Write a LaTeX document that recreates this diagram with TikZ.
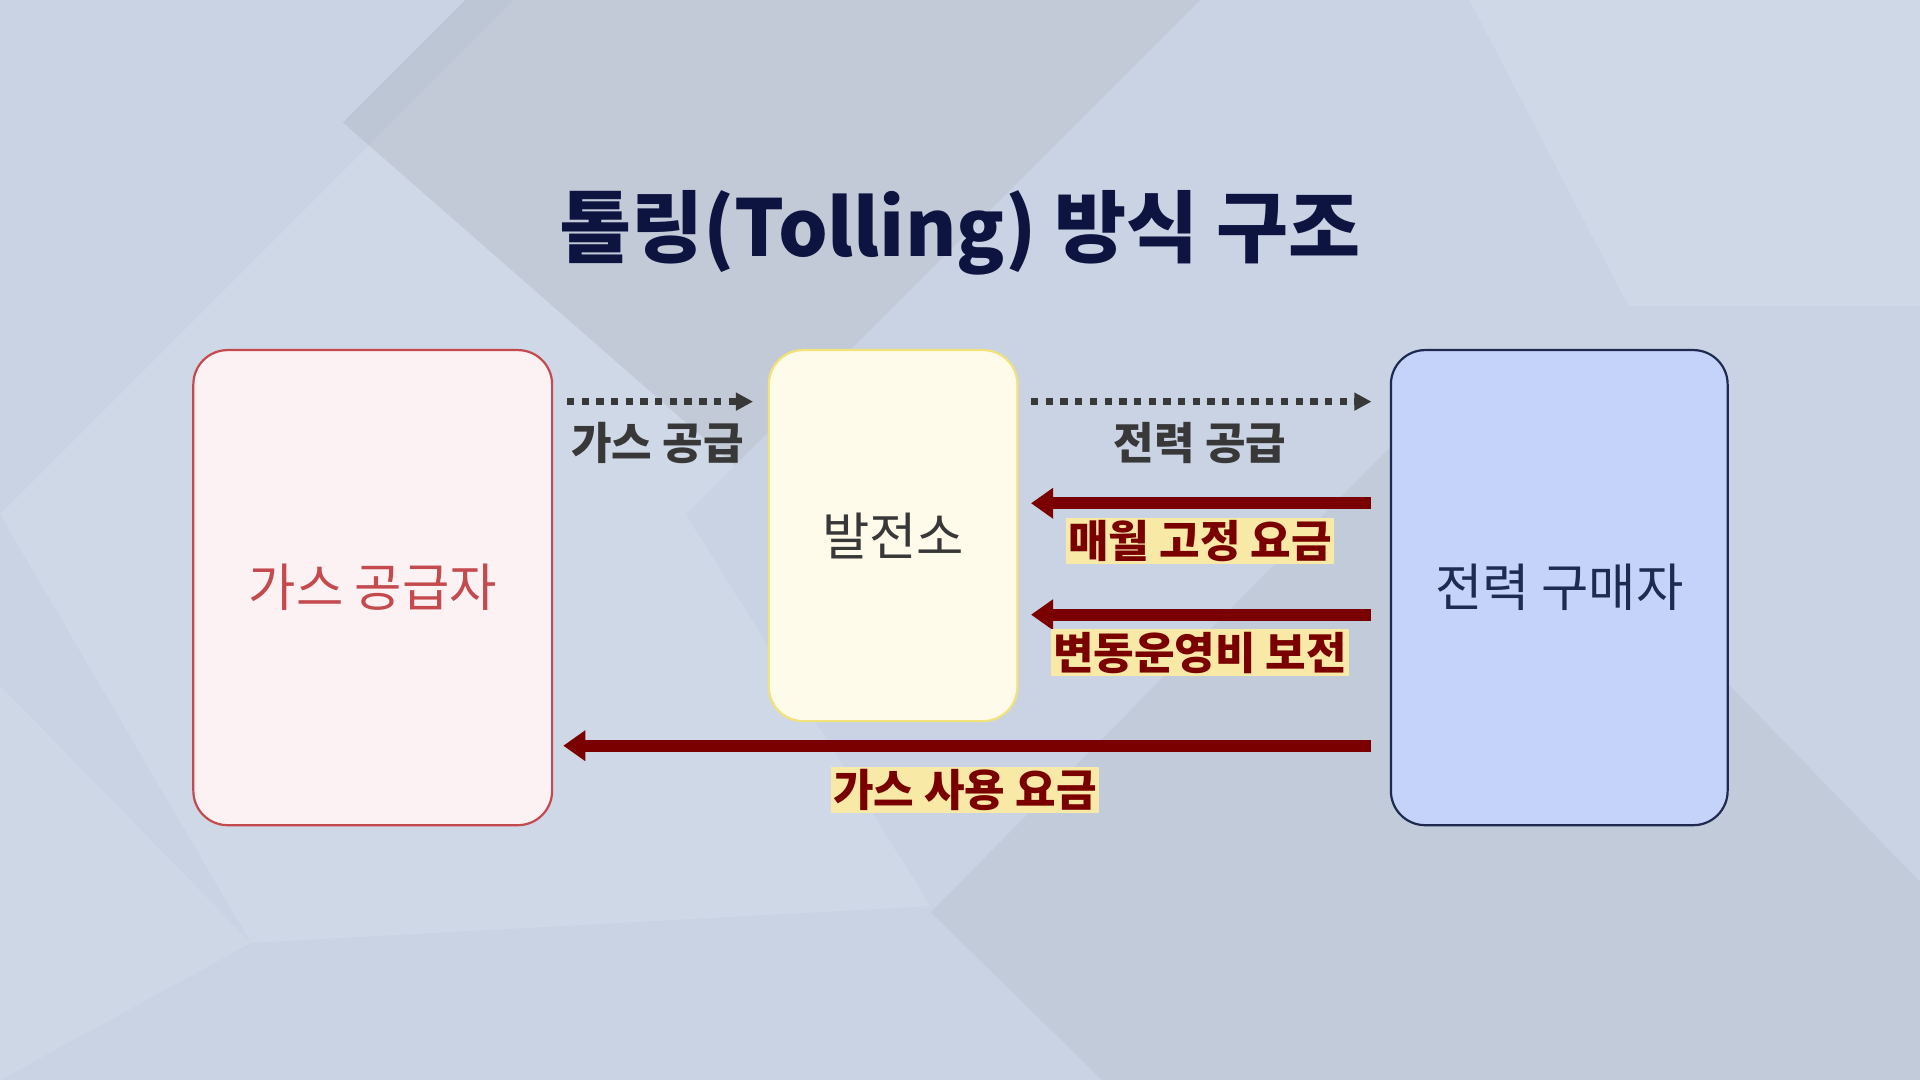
\documentclass[tikz,border=0pt]{standalone}
\usepackage{fontspec}
\setmainfont{Noto Sans CJK KR}
\usetikzlibrary{arrows.meta, positioning}
\definecolor{bgblue}{HTML}{C9D3E3}
\definecolor{titlenavy}{HTML}{0E1440}
\definecolor{gasred}{HTML}{C44A4E}
\definecolor{gasfill}{HTML}{FCF1F3}
\definecolor{plantfill}{HTML}{FFFBEA}
\definecolor{plantline}{HTML}{F2E27A}
\definecolor{buyfill}{HTML}{C5D3FB}
\definecolor{buyline}{HTML}{1F2A50}
\definecolor{payred}{HTML}{7A0000}
\definecolor{hilite}{HTML}{F8E9A6}
\tikzset{
  party/.style={draw, line width=1.8pt, rounded corners=28pt, anchor=north west},
  partylabel/.style={font=\fontsize{42}{42}\selectfont},
  supply/.style={line width=6pt, dash pattern=on 6pt off 6pt, draw=black!78, -{Triangle[length=14pt,width=14pt]}},
  payment/.style={line width=10pt, draw=payred, -{Triangle[length=18pt,width=24pt]}},
  supplylabel/.style={font=\bfseries\fontsize{36}{36}\selectfont, text=black!78},
  paylabel/.style={font=\bfseries\fontsize{36}{36}\selectfont, text=payred, fill=hilite, inner sep=2pt}
}
\begin{document}
\begin{tikzpicture}[x=1pt,y=-1pt]
% background
\fill[bgblue] (0,0) rectangle (1568,882);
\useasboundingbox (0,0) rectangle (1568,882);
\fill[white, opacity=0.12] (0,420) -- (420,0) -- (980,0) -- (560,420) -- (760,740) -- (205,770) -- cycle;
\fill[black!40!bgblue, opacity=0.15] (280,100) -- (380,0) -- (980,0) -- (600,380) -- cycle;
\fill[white, opacity=0.12] (1200,0) -- (1568,0) -- (1568,250) -- (1330,250) -- cycle;
\fill[black!30!bgblue, opacity=0.12] (760,745) -- (1180,320) -- (1568,720) -- (1568,882) -- (900,882) -- cycle;
\fill[white, opacity=0.1] (0,560) -- (205,770) -- (0,882) -- cycle;

% title
\node[font=\bfseries\fontsize{64}{64}\selectfont, text=titlenavy] (title) at (784,190) {톨링(Tolling) 방식 구조};

% parties
\node[party, draw=gasred, fill=gasfill, minimum width=293pt, minimum height=388pt] (gas) at (157,285) {};
\node[partylabel, text=gasred] (gas-label) at (gas.center) {가스 공급자};
\node[party, draw=plantline, fill=plantfill, minimum width=203pt, minimum height=303pt] (plant) at (627,285) {};
\node[partylabel, text=black!78] (plant-label) at (plant.center) {발전소};
\node[party, draw=buyline, fill=buyfill, minimum width=275pt, minimum height=388pt] (buyer) at (1135,285) {};
\node[partylabel, text=buyline] (buyer-label) at (buyer.center) {전력 구매자};

% arrow ends
\coordinate (gas-r1) at (463,328);
\coordinate (plant-l1) at (615,328);
\coordinate (plant-r1) at (842,328);
\coordinate (buyer-l1) at (1120,328);
\coordinate (buyer-l2) at (1120,411);
\coordinate (plant-r2) at (842,411);
\coordinate (buyer-l3) at (1120,502);
\coordinate (plant-r3) at (842,502);
\coordinate (buyer-l4) at (1120,609);
\coordinate (gas-r4) at (460,609);

% supply
\draw[supply] (gas-r1) -- (plant-l1);
\draw[supply] (plant-r1) -- (buyer-l1);
\node[supplylabel] (gas-supply) at (537,362) {가스 공급};
\node[supplylabel] (power-supply) at (980,362) {전력 공급};

% payments
\draw[payment] (buyer-l2) -- (plant-r2);
\node[paylabel] (fixed-fee) at (980,442) {매월 고정 요금};
\draw[payment] (buyer-l3) -- (plant-r3);
\node[paylabel] (var-cost) at (980,533) {변동운영비 보전};
\draw[payment] (buyer-l4) -- (gas-r4);
\node[paylabel] (gas-fee) at (788,645) {가스 사용 요금};
\end{tikzpicture}
\end{document}
